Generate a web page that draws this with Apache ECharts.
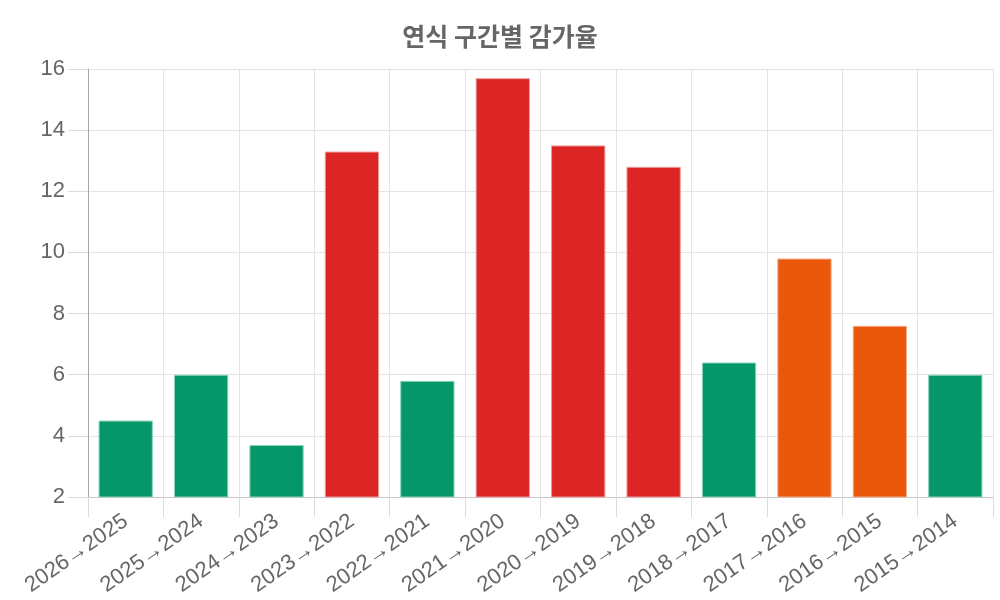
<!DOCTYPE html>
<html>
<head>
<meta charset="utf-8">
<script src="https://cdn.jsdelivr.net/npm/echarts@6/dist/echarts.min.js"></script>
<style>
	html, body { margin: 0; padding: 0; background: #fff; }
	#chart { width: 1000px; height: 600px; }
</style>
</head>
<body>
<div id="chart"></div>
<script>
// 데이터
var categories = ['2026→2025', '2025→2024', '2024→2023', '2023→2022', '2022→2021', '2021→2020',
	'2020→2019', '2019→2018', '2018→2017', '2017→2016', '2016→2015', '2015→2014'];
var rates = [4.5, 6.0, 3.7, 13.3, 5.8, 15.7, 13.5, 12.8, 6.4, 9.8, 7.6, 6.0];
var levels = ['low', 'low', 'low', 'high', 'low', 'high', 'high', 'high', 'low', 'mid', 'mid', 'low'];
var yTicks = [2, 4, 6, 8, 10, 12, 14, 16];

var levelColor = { low: '#059669', mid: '#ea580c', high: '#dc2626' };
var levelBorder = { low: '#8fd4bd', mid: '#f5ad8a', high: '#ef9a9a' };

var chart = echarts.init(document.getElementById('chart'));

var barData = [];
for (var i = 0; i < rates.length; i++) {
	barData.push({
		value: rates[i],
		itemStyle: {
			color: levelColor[levels[i]],
			borderColor: levelBorder[levels[i]],
			borderWidth: 1
		}
	});
}

var fontFamily = '"Liberation Sans", Arial, "Noto Sans CJK KR", sans-serif';

var option = {
	animation: false,
	title: {
		text: '연식 구간별 감가율',
		left: 'center',
		top: 19,
		textStyle: {
			color: '#666',
			fontSize: 25,
			fontWeight: 'bold',
			fontFamily: '"Noto Sans CJK KR", "Liberation Sans", sans-serif'
		}
	},
	grid: {
		left: 88,
		right: 7,
		top: 69,
		bottom: 103,
		containLabel: false
	},
	xAxis: {
		type: 'category',
		data: categories,
		boundaryGap: true,
		axisLine: { show: true, lineStyle: { color: '#c8c8c8', width: 1 } },
		axisTick: { show: true, length: 20, lineStyle: { color: '#dcdcdc' } },
		splitLine: { show: true, lineStyle: { color: '#e4e4e4', width: 1 } },
		axisLabel: {
			rotate: 35,
			margin: 22,
			color: '#666',
			fontSize: 22,
			fontFamily: fontFamily,
			interval: 0
		}
	},
	yAxis: {
		type: 'value',
		min: yTicks[0],
		max: yTicks[yTicks.length - 1],
		interval: 2,
		axisLine: { show: true, lineStyle: { color: '#a8a8a8', width: 1 } },
		axisTick: { show: true, length: 20, lineStyle: { color: '#dcdcdc' } },
		splitLine: { show: true, lineStyle: { color: '#e4e4e4', width: 1 } },
		axisLabel: {
			margin: 23,
			color: '#666',
			fontSize: 22,
			fontFamily: fontFamily
		}
	},
	series: [{
		type: 'bar',
		data: barData,
		barWidth: '72%'
	}]
};

chart.setOption(option);
</script>
</body>
</html>
